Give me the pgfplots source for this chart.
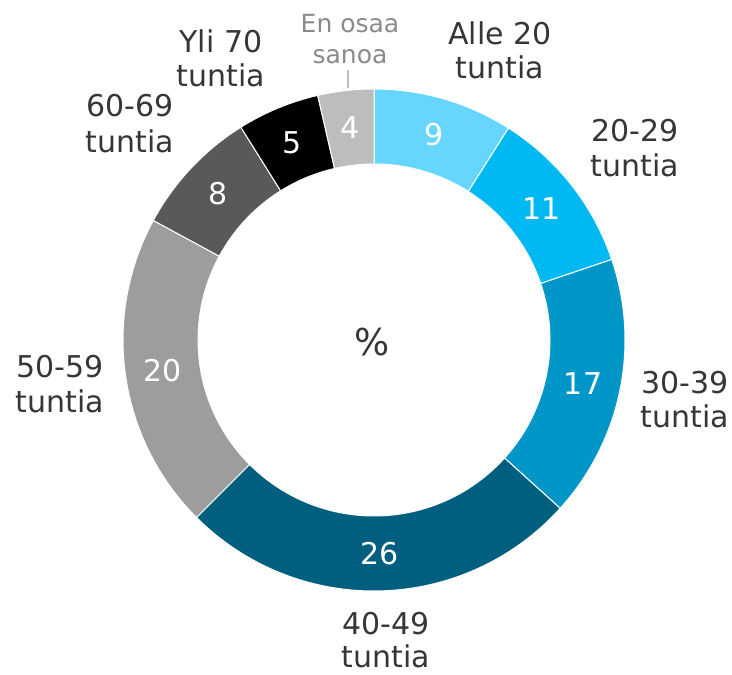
\documentclass[border=0pt]{standalone}
\usepackage{pgfplots}
\pgfplotsset{compat=1.18}
\usepackage{pgfplotstable}
\usepackage{fontspec}
\setmainfont{DejaVu Sans}
\definecolor{c1}{HTML}{66D6FF}
\definecolor{c2}{HTML}{00B9F2}
\definecolor{c3}{HTML}{0096C8}
\definecolor{c4}{HTML}{005F7F}
\definecolor{c5}{HTML}{9D9D9D}
\definecolor{c6}{HTML}{595959}
\definecolor{c7}{HTML}{000000}
\definecolor{c8}{HTML}{BDBDBD}
\definecolor{txt}{HTML}{363636}
\definecolor{txtg}{HTML}{8A8A8A}
\pgfplotstableread{
v lab col
9.0 9 c1
10.8 11 c2
16.9 17 c3
25.8 26 c4
20.4 20 c5
8.2 8 c6
5.3 5 c7
3.6 4 c8
}\datatbl
\tikzset{
  vlab/.style={text=white, font=\fontsize{15}{18}\selectfont, inner sep=0pt},
  clab/.style={text=txt, font=\fontsize{15}{18}\selectfont, anchor=base, inner sep=0pt},
  glab/.style={text=txtg, font=\fontsize{12.5}{15}\selectfont, anchor=base, inner sep=0pt},
}
\begin{document}
\begin{tikzpicture}
\begin{axis}[hide axis, scale only axis, x=0.5pt, y=0.5pt,
  xmin=0, xmax=732, ymin=0, ymax=674, clip=false]
\addplot[draw=none, forget plot] coordinates {(0,0) (732,674)};
\def\cum{0}
\pgfplotsforeachungrouped \i in {0,...,7}{%
  \pgfplotstablegetelem{\i}{v}\of\datatbl \let\val\pgfplotsretval
  \pgfplotstablegetelem{\i}{lab}\of\datatbl \let\lab\pgfplotsretval
  \pgfplotstablegetelem{\i}{col}\of\datatbl \let\col\pgfplotsretval
  \pgfmathsetmacro\aa{90-3.6*\cum}%
  \pgfmathsetmacro\ab{90-3.6*(\cum+\val)}%
  \pgfmathsetmacro\am{(\aa+\ab)/2}%
  \pgfmathsetmacro\xa{374+251*cos(\aa)}%
  \pgfmathsetmacro\ya{334+251*sin(\aa)}%
  \pgfmathsetmacro\xb{374+176*cos(\ab)}%
  \pgfmathsetmacro\yb{334+176*sin(\ab)}%
  \pgfmathsetmacro\xm{374+213.5*cos(\am)}%
  \pgfmathsetmacro\ym{334+213.5*sin(\am)}%
  \edef\temp{\noexpand\fill[\col, draw=white, line width=0.5pt]
    (axis cs:\xa,\ya) arc[start angle=\aa, end angle=\ab, radius=125.5pt]
    -- (axis cs:\xb,\yb) arc[start angle=\ab, end angle=\aa, radius=88pt] -- cycle;
    \noexpand\node[vlab] at (axis cs:\xm,\ym) {\lab};}%
  \temp
  \pgfmathsetmacro\cum{\cum+\val}%
}
% category labels (x, 674 - baseline)
\node[clab] at (axis cs:500,629) {Alle 20};
\node[clab] at (axis cs:500,595) {tuntia};
\node[clab] at (axis cs:635,532) {20-29};
\node[clab] at (axis cs:635,497) {tuntia};
\node[clab] at (axis cs:685,280) {30-39};
\node[clab] at (axis cs:685,246) {tuntia};
\node[clab] at (axis cs:386,40) {40-49};
\node[clab] at (axis cs:386,7) {tuntia};
\node[clab] at (axis cs:60,296) {50-59};
\node[clab] at (axis cs:60,261) {tuntia};
\node[clab] at (axis cs:130,557) {60-69};
\node[clab] at (axis cs:130,521) {tuntia};
\node[clab] at (axis cs:221,621) {Yli 70};
\node[clab] at (axis cs:221,587) {tuntia};
\node[glab] at (axis cs:350,641) {En osaa};
\node[glab] at (axis cs:350,610) {sanoa};
\draw[c8, line width=0.75pt] (axis cs:348,604) -- (axis cs:348,586);
\node[text=txt, font=\fontsize{18.5}{22}\selectfont, anchor=base, inner sep=0pt] at (axis cs:372,318) {\%};
\end{axis}
\end{tikzpicture}
\end{document}
